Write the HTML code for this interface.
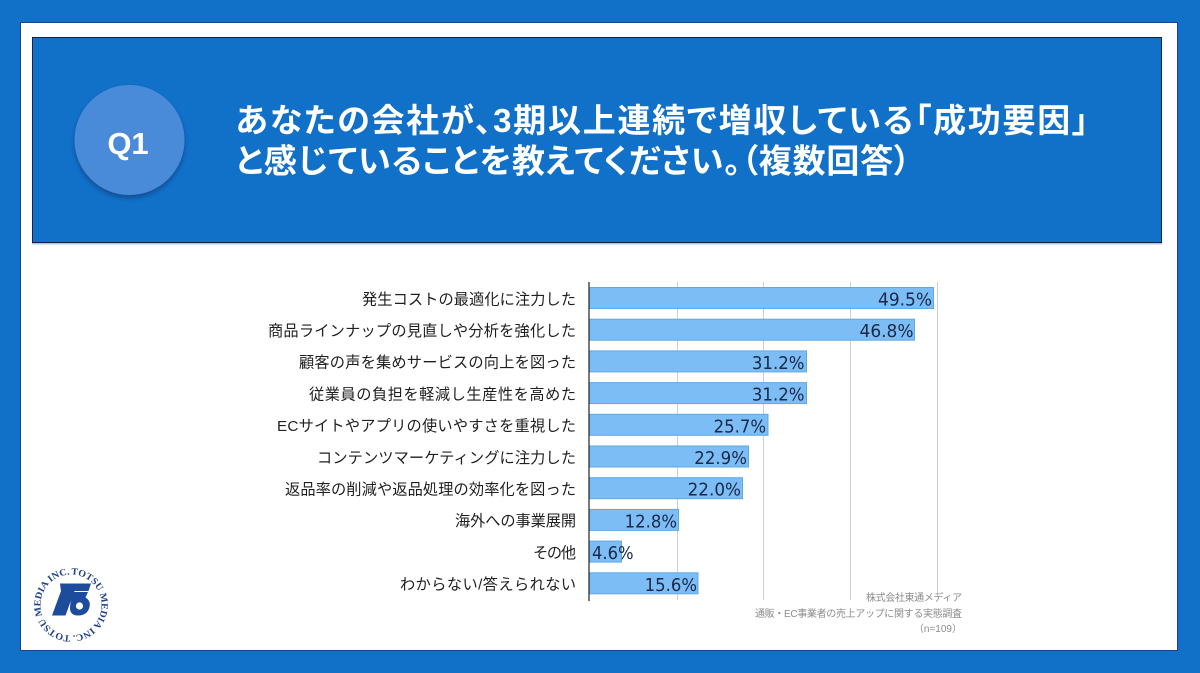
<!DOCTYPE html>
<html><head><meta charset="utf-8">
<style>
html,body{margin:0;padding:0;background:#1170c8;}
svg{display:block;}
.cjk{font-family:"Liberation Sans","Noto Sans CJK JP",sans-serif;}
</style></head>
<body>
<svg width="1200" height="673" viewBox="0 0 1200 673" xmlns="http://www.w3.org/2000/svg">
<defs>
<filter id="sh" x="-20%" y="-20%" width="140%" height="150%">
<feDropShadow dx="0" dy="3" stdDeviation="2" flood-color="#08336a" flood-opacity="0.55"/>
</filter>
<path id="ring" d="M 71 574.5 A 30.5 30.5 0 0 1 71 635.5 A 30.5 30.5 0 0 1 71 574.5"/>
</defs>
<rect x="0" y="0" width="1200" height="673" fill="#1170c8"/>
<rect x="20.5" y="22.5" width="1157" height="628" fill="#ffffff" stroke="#1b3f95" stroke-width="1"/>
<!-- header -->
<rect x="32" y="243" width="1130" height="1.5" fill="#b8c4d4"/>
<rect x="32.5" y="37.5" width="1129" height="205" fill="#1170c8" stroke="#0d2347" stroke-width="1"/>
<circle cx="129.5" cy="140" r="55" fill="#4a8bd8" filter="url(#sh)"/>
<text x="128" y="154" text-anchor="middle" font-family="Liberation Sans, sans-serif" font-weight="bold" font-size="31" fill="#ffffff">Q1</text>
<text class="cjk" x="235.5" y="132" font-size="33" font-weight="700" fill="#ffffff" style="font-feature-settings:'palt'" textLength="853" lengthAdjust="spacing">あなたの会社が、3期以上連続で増収している「成功要因」</text>
<text class="cjk" x="235.5" y="172.5" font-size="33" font-weight="700" fill="#ffffff" style="font-feature-settings:'palt'" textLength="675" lengthAdjust="spacing">と感じていることを教えてください。（複数回答）</text>

<!-- gridlines -->
<g stroke="#cfcfcf" stroke-width="1">
<line x1="677.5" y1="282" x2="677.5" y2="600"/>
<line x1="763.5" y1="282" x2="763.5" y2="600"/>
<line x1="850.5" y1="282" x2="850.5" y2="600"/>
<line x1="937.5" y1="282" x2="937.5" y2="596"/>
</g>
<!-- bars -->
<g fill="#7bbdf4" stroke="#5ea9e8" stroke-width="1">
<rect x="589.5" y="287.5" width="344" height="21"/>
<rect x="589.5" y="319.2" width="325" height="21"/>
<rect x="589.5" y="350.9" width="217" height="21"/>
<rect x="589.5" y="382.6" width="217" height="21"/>
<rect x="589.5" y="414.3" width="178.5" height="21"/>
<rect x="589.5" y="446.0" width="159" height="21"/>
<rect x="589.5" y="477.7" width="153" height="21"/>
<rect x="589.5" y="509.4" width="89" height="21"/>
<rect x="589.5" y="541.1" width="32" height="21"/>
<rect x="589.5" y="572.8" width="108.5" height="21"/>
</g>
<line x1="589" y1="282" x2="589" y2="601" stroke="#333333" stroke-width="1.3"/>

<!-- value labels -->
<g font-family="DejaVu Sans, Liberation Sans, sans-serif" font-size="17.5" fill="#1b2848" lengthAdjust="spacingAndGlyphs">
<text x="932" y="305.5" text-anchor="end" textLength="54" lengthAdjust="spacingAndGlyphs">49.5%</text>
<text x="913.5" y="337.2" text-anchor="end" textLength="54" lengthAdjust="spacingAndGlyphs">46.8%</text>
<text x="804.5" y="368.9" text-anchor="end" textLength="52.6" lengthAdjust="spacingAndGlyphs">31.2%</text>
<text x="804.5" y="400.6" text-anchor="end" textLength="52.6" lengthAdjust="spacingAndGlyphs">31.2%</text>
<text x="766" y="432.3" text-anchor="end" textLength="52.4" lengthAdjust="spacingAndGlyphs">25.7%</text>
<text x="747" y="464" text-anchor="end" textLength="52.7" lengthAdjust="spacingAndGlyphs">22.9%</text>
<text x="741" y="495.7" text-anchor="end" textLength="53.4" lengthAdjust="spacingAndGlyphs">22.0%</text>
<text x="677" y="527.4" text-anchor="end" textLength="52.4" lengthAdjust="spacingAndGlyphs">12.8%</text>
<text x="592" y="559.1" textLength="41.6" lengthAdjust="spacingAndGlyphs">4.6%</text>
<text x="697" y="590.8" text-anchor="end" textLength="52.4" lengthAdjust="spacingAndGlyphs">15.6%</text>
</g>

<!-- category labels -->
<g class="cjk" font-size="15.2" fill="#1f1f1f" text-anchor="end" lengthAdjust="spacing">
<text x="576" y="304.3" textLength="214">発生コストの最適化に注力した</text>
<text x="576" y="336" textLength="308">商品ラインナップの見直しや分析を強化した</text>
<text x="576" y="367.7" textLength="277">顧客の声を集めサービスの向上を図った</text>
<text x="576" y="399.4" textLength="267">従業員の負担を軽減し生産性を高めた</text>
<text x="576" y="431.1" textLength="299">ECサイトやアプリの使いやすさを重視した</text>
<text x="576" y="462.8" textLength="259">コンテンツマーケティングに注力した</text>
<text x="576" y="494.5" textLength="291">返品率の削減や返品処理の効率化を図った</text>
<text x="576" y="526.2" textLength="121">海外への事業展開</text>
<text x="576" y="557.9" textLength="43">その他</text>
<text x="576" y="589.6" textLength="176">わからない/答えられない</text>
</g>

<!-- source notes -->
<g class="cjk" font-size="10" fill="#8c8c8c" text-anchor="end">
<text x="962" y="601" textLength="96" lengthAdjust="spacing">株式会社東通メディア</text>
<text x="962" y="617" textLength="207" lengthAdjust="spacing">通販・EC事業者の売上アップに関する実態調査</text>
<text x="962" y="632">（n=109）</text>
</g>

<!-- logo -->
<text font-family="Liberation Serif, serif" font-weight="bold" font-size="9.6" fill="#1f3f8a">
<textPath href="#ring" textLength="190" lengthAdjust="spacingAndGlyphs">TOTSU MEDIA INC. TOTSU MEDIA INC.</textPath>
</text>
<g fill="#1e4c9c">
<polygon points="60,583.5 91,583.5 88.5,591 74.5,591 65.5,615.5 52,615.5 61,591"/>
<path d="M 72 592 L 88 592 L 85.5 597.5 Q 91 601 89.5 607 Q 87.5 615.5 78 615.5 Q 69.5 615.5 70 607 Z"/>
</g>
<circle cx="79.5" cy="606" r="3.6" fill="#ffffff"/>
</svg>
</body></html>
